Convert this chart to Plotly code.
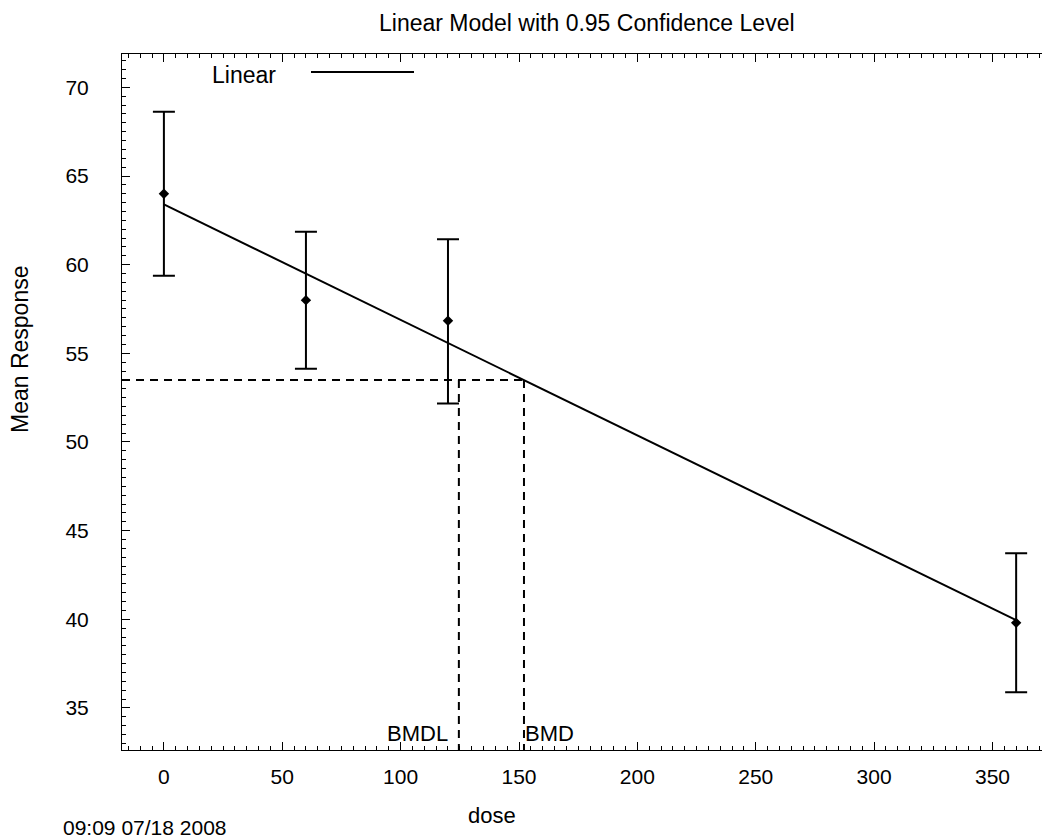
import plotly.graph_objects as go

# ---- data ----
dose = [0, 60, 120, 360]
mean_resp = [64.0, 58.0, 56.84, 39.8]
ci_lower = [59.37, 54.13, 52.17, 35.88]
ci_upper = [68.63, 61.86, 61.44, 43.72]

fit_dose = [0, 360]
fit_resp = [63.4, 39.95]

bmr_response = 53.5
bmd = 152.1
bmdl = 124.6

x_range = [-17.7, 374.3]
y_range = [32.63, 71.88]
x_ticks = [0, 50, 100, 150, 200, 250, 300, 350]
y_ticks = [35, 40, 45, 50, 55, 60, 65, 70]

FONT = "Liberation Sans, Arial, Helvetica, sans-serif"

# layout geometry (page has an 8px body margin)
W, H = 1042, 832
ML, MR, MT, MB = 114, 0, 46, 90
PLOT_L, PLOT_W = 8 + ML, W - ML - MR
PLOT_B, PLOT_H = 8 + H - MB, H - MT - MB


def px(sx):
    return (sx - PLOT_L) / PLOT_W


def py(sy):
    return (PLOT_B - sy) / PLOT_H


err_plus = [u - m for u, m in zip(ci_upper, mean_resp)]
err_minus = [m - l for m, l in zip(mean_resp, ci_lower)]

fig = go.Figure()

# fitted linear model
fig.add_trace(go.Scatter(x=fit_dose, y=fit_resp, mode="lines",
                         line=dict(color="black", width=2), name="Linear",
                         showlegend=False))

# BMD / BMDL dashed guides
dash = dict(color="black", width=2, dash="8px,6px")
fig.add_trace(go.Scatter(x=[x_range[0], bmd], y=[bmr_response, bmr_response], mode="lines",
                         line=dash, showlegend=False))
fig.add_trace(go.Scatter(x=[bmdl, bmdl], y=[bmr_response, y_range[0]], mode="lines",
                         line=dash, showlegend=False))
fig.add_trace(go.Scatter(x=[bmd, bmd], y=[bmr_response, y_range[0]], mode="lines",
                         line=dash, showlegend=False))

# observed means with confidence intervals
fig.add_trace(go.Scatter(x=dose, y=mean_resp, mode="markers",
                         marker=dict(symbol="diamond", size=8, color="black"),
                         error_y=dict(type="data", symmetric=False, array=err_plus,
                                      arrayminus=err_minus, width=11, thickness=2,
                                      color="black"),
                         showlegend=False))

axis_common = dict(showgrid=False, zeroline=False, showline=True, linecolor="black",
                   linewidth=1, ticks="inside", ticklen=8, tickwidth=1, tickcolor="black",
                   tickfont=dict(family=FONT, size=21, color="black"))

fig.update_xaxes(range=x_range, tickvals=x_ticks, mirror="ticks",
                 minor=dict(dtick=5, tick0=0, ticks="inside", ticklen=4, tickcolor="black"),
                 ticklabelstandoff=8, **axis_common)
fig.update_yaxes(range=y_range, tickvals=y_ticks, mirror=False,
                 minor=dict(dtick=0.5, tick0=0, ticks="inside", ticklen=4, tickcolor="black"),
                 ticklabelstandoff=28, **axis_common)

# title, anchored to the top of the figure
fig.add_annotation(text="Linear Model with 0.95 Confidence Level", xref="paper", yref="paper",
                   x=px(587), y=py(8), xanchor="center", yanchor="top", showarrow=False,
                   font=dict(family=FONT, size=23, color="black"))

annos = [
    dict(text="dose", x=492, y=815, size=22),
    dict(text="09:09 07/18 2008", x=145, y=827, size=21),
    dict(text="Linear", x=244, y=75, size=23),
]
for a in annos:
    fig.add_annotation(text=a["text"], xref="paper", yref="paper",
                       x=px(a["x"]), y=py(a["y"]), xanchor="center", yanchor="middle",
                       showarrow=False, font=dict(family=FONT, size=a["size"], color="black"))

fig.add_annotation(text="Mean Response", xref="paper", yref="paper", x=px(20),
                   y=py(349), textangle=-90, xanchor="center", yanchor="middle",
                   showarrow=False, font=dict(family=FONT, size=23, color="black"))

# BMDL / BMD labels
fig.add_annotation(text="BMDL", x=bmdl, y=y_range[0], xref="x", yref="y", xanchor="right",
                   yanchor="bottom", xshift=-9, yshift=2, showarrow=False,
                   font=dict(family=FONT, size=22, color="black"))
fig.add_annotation(text="BMD", x=bmd, y=y_range[0], xref="x", yref="y", xanchor="left",
                   yanchor="bottom", xshift=-1, yshift=2, showarrow=False,
                   font=dict(family=FONT, size=22, color="black"))

# legend sample line
fig.add_shape(type="line", xref="paper", yref="paper", x0=px(311), x1=px(414),
              y0=py(72), y1=py(72), line=dict(color="black", width=2))

fig.update_layout(width=W, height=H, plot_bgcolor="white", paper_bgcolor="white",
                  margin=dict(l=ML, r=MR, t=MT, b=MB), showlegend=False,
                  font=dict(family=FONT, color="black"))

fig.write_html("out.html")
